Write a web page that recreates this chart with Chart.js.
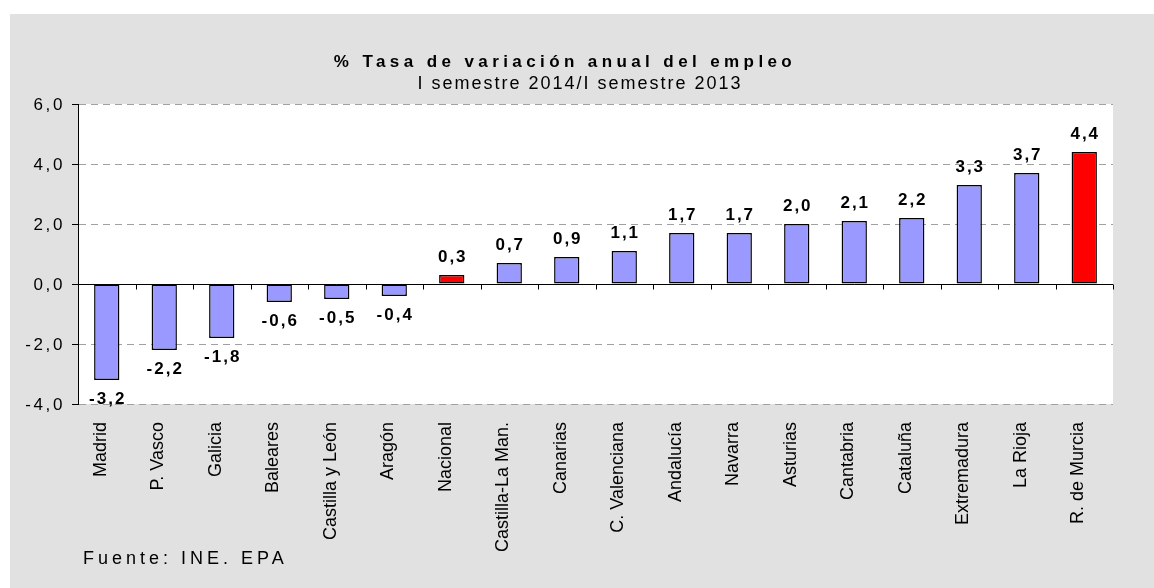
<!DOCTYPE html>
<html lang="es">
<head>
<meta charset="utf-8">
<title>Tasa de variación anual del empleo</title>
<script src="https://cdn.jsdelivr.net/npm/chart.js@4.4.1/dist/chart.umd.min.js"></script>
<style>
  html, body { margin: 0; padding: 0; background: #fff; }
  #contenedor { position: relative; width: 1154px; height: 588px; }
</style>
</head>
<body>
<div id="contenedor"><canvas id="grafico" width="1154" height="588"></canvas></div>
<script>
// ---------------------------------------------------------------------------
// Datos
// ---------------------------------------------------------------------------
const regiones = [
  "Madrid", "P. Vasco", "Galicia", "Baleares", "Castilla y León", "Aragón",
  "Nacional", "Castilla-La Man.", "Canarias", "C. Valenciana", "Andalucía",
  "Navarra", "Asturias", "Cantabria", "Cataluña", "Extremadura", "La Rioja",
  "R. de Murcia"
];
const variacion = [
  -3.2, -2.2, -1.8, -0.6, -0.5, -0.4,
  0.3, 0.7, 0.9, 1.1, 1.7,
  1.7, 2.0, 2.1, 2.2, 3.3, 3.7,
  4.4
];
const destacadas = ["Nacional", "R. de Murcia"];
const ticksEje = [-4, -2, 0, 2, 4, 6];

const titulo = "% Tasa de variación anual del empleo";
const subtitulo = "I semestre 2014/I semestre 2013";
const fuente = "Fuente: INE. EPA";

const FAMILIA = "'Liberation Sans', Arial, Helvetica, sans-serif";

// formato español: coma decimal
function formatear(v) {
  return v.toFixed(1).replace(".", ",");
}

// Fondo gris del panel y área de trazado blanca
const pluginFondo = {
  id: "fondo",
  beforeDraw(chart) {
    const { ctx, chartArea: a } = chart;
    ctx.save();
    ctx.fillStyle = "#ffffff";
    ctx.fillRect(0, 0, chart.width, chart.height);
    ctx.fillStyle = "#e1e1e1";
    ctx.fillRect(10, 14, chart.width - 10, chart.height - 14);
    ctx.fillStyle = "#ffffff";
    ctx.fillRect(a.left, a.top, a.right - a.left, a.bottom - a.top);
    ctx.restore();
  }
};

// Eje de categorías sobre el valor 0 con sus marcas
const pluginEjeCero = {
  id: "ejeCero",
  beforeDatasetsDraw(chart) {
    const { ctx, chartArea: a, scales } = chart;
    const y0 = Math.round(scales.y.getPixelForValue(0)) + 0.5;
    const paso = scales.x.getPixelForValue(1) - scales.x.getPixelForValue(0);
    ctx.save();
    ctx.strokeStyle = "#000";
    ctx.lineWidth = 1;
    ctx.beginPath();
    ctx.moveTo(a.left, y0);
    ctx.lineTo(a.right, y0);
    for (let i = 1; i <= regiones.length; i++) {
      const x = Math.round(scales.x.getPixelForValue(i) - paso / 2) + 0.5;
      ctx.moveTo(x, y0);
      ctx.lineTo(x, y0 + 5);
    }
    ctx.stroke();
    ctx.restore();
  }
};

// Valores encima / debajo de cada barra
const pluginEtiquetas = {
  id: "etiquetas",
  afterDatasetsDraw(chart) {
    const { ctx } = chart;
    const meta = chart.getDatasetMeta(0);
    const esp = 2;
    ctx.save();
    ctx.font = "bold 17px " + FAMILIA;
    ctx.letterSpacing = esp + "px";
    ctx.fillStyle = "#000";
    ctx.textAlign = "center";
    ctx.textBaseline = "alphabetic";
    meta.data.forEach((barra, i) => {
      const v = variacion[i];
      const y = v >= 0 ? barra.y - 13 : barra.y + 24;
      ctx.fillText(formatear(v), barra.x + esp / 2, y);
    });
    ctx.restore();
  }
};

// Textos: título, subtítulo, etiquetas del eje Y y fuente
const pluginTextos = {
  id: "textos",
  afterDraw(chart) {
    const { ctx, scales } = chart;
    ctx.save();
    ctx.fillStyle = "#000";

    ctx.textAlign = "center";
    ctx.textBaseline = "alphabetic";
    ctx.font = "bold 17px " + FAMILIA;
    ctx.letterSpacing = "4.4px";
    ctx.fillText(titulo, 565, 67);

    ctx.font = "18px " + FAMILIA;
    ctx.letterSpacing = "2px";
    ctx.fillText(subtitulo, 580, 89);

    ctx.textAlign = "right";
    ctx.textBaseline = "middle";
    ctx.font = "17px " + FAMILIA;
    ctx.letterSpacing = "2.6px";
    scales.y.ticks.forEach(t => {
      ctx.fillText(formatear(t.value), scales.y.right - 13, scales.y.getPixelForValue(t.value) + 1);
    });

    ctx.textAlign = "left";
    ctx.textBaseline = "alphabetic";
    ctx.font = "18px " + FAMILIA;
    ctx.letterSpacing = "4px";
    ctx.fillText(fuente, 83, 564);
    ctx.restore();
  }
};

const grafico = new Chart(document.getElementById("grafico"), {
  type: "bar",
  data: {
    labels: regiones,
    datasets: [{
      label: "% Tasa de variación anual del empleo",
      data: variacion,
      backgroundColor: regiones.map(r => destacadas.includes(r) ? "#ff0000" : "#9999ff"),
      borderColor: "#000000",
      borderWidth: 1.5,
      borderSkipped: false,
      barPercentage: 0.44,
      categoryPercentage: 1
    }]
  },
  options: {
    responsive: false,
    devicePixelRatio: 1,
    animation: false,
    layout: { padding: { left: 0, right: 41, top: 104, bottom: 0 } },
    plugins: {
      legend: { display: false },
      title: { display: false },
      tooltip: { enabled: false }
    },
    scales: {
      x: {
        grid: { display: false },
        border: { display: false },
        ticks: {
          autoSkip: false,
          maxRotation: 90,
          minRotation: 90,
          padding: 10,
          labelOffset: -6,
          color: "#000",
          font: { family: FAMILIA, size: 18 }
        },
        afterFit(s) { s.height = 184; }
      },
      y: {
        min: -4,
        max: 6,
        afterBuildTicks(s) { s.ticks = ticksEje.map(v => ({ value: v })); },
        grid: {
          color: c => (c.tick && c.tick.value === 0) ? "rgba(0,0,0,0)" : "#a0a0a0",
          lineWidth: 1,
          drawTicks: true,
          tickLength: 6,
          tickColor: "#000",
          tickBorderDash: []
        },
        border: { display: true, color: "#000", width: 1, dash: [7, 5] },
        ticks: { display: false },
        afterFit(s) { s.width = 78; }
      }
    }
  },
  plugins: [pluginFondo, pluginEjeCero, pluginEtiquetas, pluginTextos]
});
</script>
</body>
</html>
